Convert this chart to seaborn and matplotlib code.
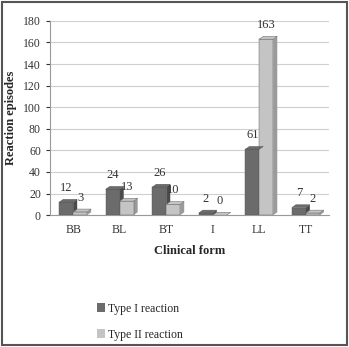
import numpy as np
import pandas as pd
import matplotlib
matplotlib.use("Agg")
import matplotlib.pyplot as plt
import seaborn as sns
from matplotlib.patches import Polygon, Patch

# data
forms = ["BB", "BL", "BT", "I", "LL", "TT"]
type1 = [12, 24, 26, 2, 61, 7]
type2 = [3, 13, 10, 0, 163, 2]

df = pd.DataFrame({
    "form": forms * 2,
    "episodes": type1 + type2,
    "reaction": ["Type I reaction"] * len(forms) + ["Type II reaction"] * len(forms),
})

sns.set_style("white")
plt.rcParams["font.family"] = ["Liberation Serif", "DejaVu Serif"]

fig = plt.figure(figsize=(3.49, 3.47), dpi=100)
ax = fig.add_axes([0.143, 0.38, 0.80, 0.56])

colors = {"Type I reaction": "#6b6b6b", "Type II reaction": "#c4c4c4"}
sns.barplot(data=df, x="form", y="episodes", hue="reaction", palette=colors,
            width=0.6, gap=0.0, ax=ax, legend=False, zorder=3)

# fake 3D depth faces, built from the drawn bar patches
dx, dy = 4.0, 3.0  # px
dark = {"Type I reaction": "#4a4a4a", "Type II reaction": "#9a9a9a"}
fig.canvas.draw()
for cont, lab in zip(ax.containers, ["Type I reaction", "Type II reaction"]):
    for p in cont.patches:
        x0, y0 = p.get_x(), p.get_y()
        x1, y1 = x0 + p.get_width(), y0 + p.get_height()
        (X0, Y0) = ax.transData.transform((x0, y0))
        (X1, Y1) = ax.transData.transform((x1, y1))
        inv = ax.transData.inverted()
        side = [(X1, Y0), (X1 + dx, Y0 + dy), (X1 + dx, Y1 + dy), (X1, Y1)]
        top = [(X0, Y1), (X0 + dx, Y1 + dy), (X1 + dx, Y1 + dy), (X1, Y1)]
        ax.add_patch(Polygon(inv.transform(side), closed=True, fc=dark[lab], ec="none", zorder=2.9))
        ax.add_patch(Polygon(inv.transform(top), closed=True, fc=colors[lab], ec="#555555", lw=0.3, zorder=3.1))
        p.set_edgecolor("#555555")
        p.set_linewidth(0.3)
    ax.bar_label(cont, padding=6, fontsize=9, color="#333333")

ax.set_ylim(0, 180)
ax.set_yticks(range(0, 181, 20))
ax.yaxis.grid(True, color="#cfcfcf", lw=0.8)
ax.set_axisbelow(True)
ax.set_xlim(-0.5, 5.5)
for s in ["top", "right"]:
    ax.spines[s].set_visible(False)
ax.spines["left"].set_color("#999999")
ax.spines["bottom"].set_color("#999999")
ax.tick_params(axis="both", labelsize=8.5, colors="#333333", length=3, direction="out",
               left=True, bottom=False)
ax.set_xlabel("Clinical form", fontsize=9, fontweight="bold", labelpad=6)
ax.set_ylabel("Reaction episodes", fontsize=9, fontweight="bold", labelpad=4)

# legend stacked vertically below plot
handles = [Patch(fc=colors[k], ec="none") for k in colors]
fig.legend(handles, list(colors), loc="upper left", bbox_to_anchor=(0.26, 0.145),
           frameon=False, fontsize=8.5, handlelength=0.7, handleheight=0.7,
           labelspacing=1.2, handletextpad=0.3, borderpad=0)

# figure border
fig.patches.append(plt.Rectangle((0.005, 0.005), 0.99, 0.99, transform=fig.transFigure,
                                 fill=False, ec="#555555", lw=1.5))

fig.savefig("out.png", dpi=100)
